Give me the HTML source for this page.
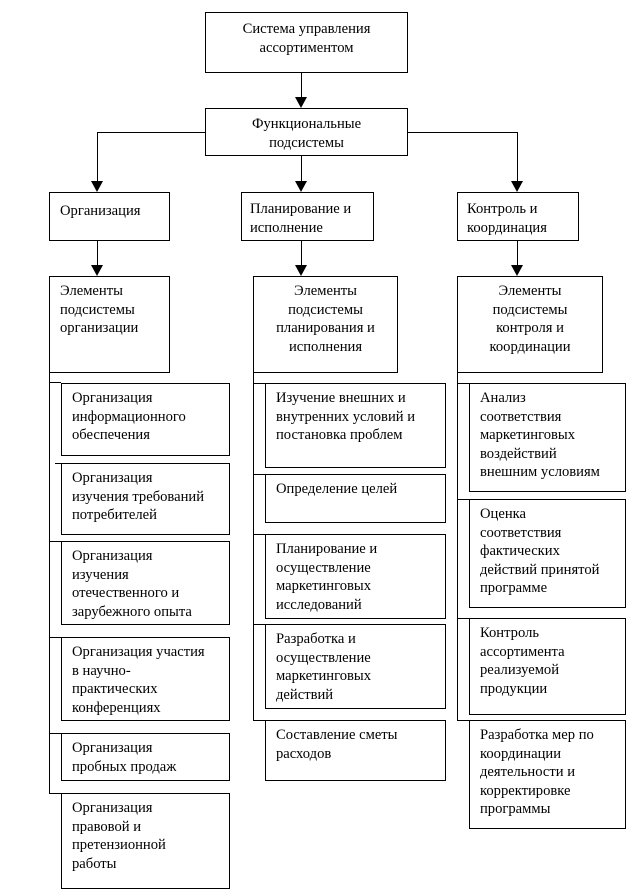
<!DOCTYPE html>
<html><head><meta charset="utf-8"><style>
body{margin:0;width:636px;height:891px;background:#fff;position:relative;overflow:hidden;font-family:"Liberation Serif","DejaVu Serif",serif;font-size:14.6px;line-height:18.6px;color:#000}
.b{position:absolute;border:1px solid #000;box-sizing:border-box;padding:5px 0 0 10px;background:#fff;white-space:nowrap}
.c{text-align:center;padding-left:0}
.l{position:absolute;background:#000}
.a{position:absolute;width:0;height:0;border-left:6px solid transparent;border-right:6px solid transparent;border-top:11px solid #000}
</style></head><body>
<div class="l" style="left:301px;top:72px;width:1px;height:28px"></div><div class="a" style="left:295px;top:97px"></div>
<div class="l" style="left:97px;top:132px;width:108px;height:1px"></div>
<div class="l" style="left:407px;top:132px;width:111px;height:1px"></div>
<div class="l" style="left:97px;top:132px;width:1px;height:50px"></div><div class="a" style="left:91px;top:181px"></div>
<div class="l" style="left:301px;top:156px;width:1px;height:26px"></div><div class="a" style="left:295px;top:181px"></div>
<div class="l" style="left:517px;top:132px;width:1px;height:50px"></div><div class="a" style="left:511px;top:181px"></div>
<div class="l" style="left:97px;top:240px;width:1px;height:26px"></div><div class="a" style="left:91px;top:265px"></div>
<div class="l" style="left:301px;top:240px;width:1px;height:26px"></div><div class="a" style="left:295px;top:265px"></div>
<div class="l" style="left:517px;top:240px;width:1px;height:26px"></div><div class="a" style="left:511px;top:265px"></div>
<div class="l" style="left:49px;top:372px;width:1px;height:421px"></div>
<div class="l" style="left:253px;top:372px;width:1px;height:348px"></div>
<div class="l" style="left:457px;top:372px;width:1px;height:348px"></div>
<div class="l" style="left:49px;top:382px;width:12px;height:1px"></div>
<div class="l" style="left:55px;top:463px;width:6px;height:1px"></div>
<div class="l" style="left:49px;top:541px;width:12px;height:1px"></div>
<div class="l" style="left:49px;top:637px;width:12px;height:1px"></div>
<div class="l" style="left:49px;top:733px;width:12px;height:1px"></div>
<div class="l" style="left:49px;top:793px;width:12px;height:1px"></div>
<div class="l" style="left:253px;top:383px;width:12px;height:1px"></div>
<div class="l" style="left:253px;top:474px;width:12px;height:1px"></div>
<div class="l" style="left:253px;top:534px;width:12px;height:1px"></div>
<div class="l" style="left:253px;top:624px;width:12px;height:1px"></div>
<div class="l" style="left:253px;top:720px;width:12px;height:1px"></div>
<div class="l" style="left:457px;top:383px;width:12px;height:1px"></div>
<div class="l" style="left:457px;top:499px;width:12px;height:1px"></div>
<div class="l" style="left:457px;top:618px;width:12px;height:1px"></div>
<div class="l" style="left:457px;top:720px;width:12px;height:1px"></div>

<div class="b c" style="left:205px;top:12px;width:203px;height:61px;padding-top:7px">Система управления<br>ассортиментом</div>
<div class="b c" style="left:205px;top:108px;width:203px;height:48px;padding-top:6px">Функциональные<br>подсистемы</div>
<div class="b" style="left:49px;top:192px;width:121px;height:49px;padding-top:9px">Организация</div>
<div class="b" style="left:241px;top:192px;width:133px;height:49px;padding-top:7px;padding-left:8px">Планирование и<br>исполнение</div>
<div class="b" style="left:457px;top:192px;width:122px;height:49px;padding-top:7px;padding-left:9px">Контроль и<br>координация</div>
<div class="b" style="left:49px;top:276px;width:121px;height:97px">Элементы<br>подсистемы<br>организации</div>
<div class="b c" style="left:253px;top:276px;width:145px;height:97px">Элементы<br>подсистемы<br>планирования и<br>исполнения</div>
<div class="b c" style="left:457px;top:276px;width:146px;height:97px">Элементы<br>подсистемы<br>контроля и<br>координации</div>

<div class="b" style="left:61px;top:383px;width:169px;height:73px">Организация<br>информационного<br>обеспечения</div>
<div class="b" style="left:61px;top:463px;width:169px;height:72px">Организация<br>изучения требований<br>потребителей</div>
<div class="b" style="left:61px;top:541px;width:169px;height:84px">Организация<br>изучения<br>отечественного и<br>зарубежного опыта</div>
<div class="b" style="left:61px;top:637px;width:169px;height:84px">Организация участия<br>в научно-<br>практических<br>конференциях</div>
<div class="b" style="left:61px;top:733px;width:169px;height:48px">Организация<br>пробных продаж</div>
<div class="b" style="left:61px;top:793px;width:169px;height:96px">Организация<br>правовой и<br>претензионной<br>работы</div>

<div class="b" style="left:265px;top:383px;width:181px;height:85px">Изучение внешних и<br>внутренних условий и<br>постановка проблем</div>
<div class="b" style="left:265px;top:474px;width:181px;height:49px">Определение целей</div>
<div class="b" style="left:265px;top:534px;width:181px;height:85px">Планирование и<br>осуществление<br>маркетинговых<br>исследований</div>
<div class="b" style="left:265px;top:624px;width:181px;height:85px">Разработка и<br>осуществление<br>маркетинговых<br>действий</div>
<div class="b" style="left:265px;top:720px;width:181px;height:61px">Составление сметы<br>расходов</div>

<div class="b" style="left:469px;top:383px;width:157px;height:109px">Анализ<br>соответствия<br>маркетинговых<br>воздействий<br>внешним условиям</div>
<div class="b" style="left:469px;top:499px;width:157px;height:109px">Оценка<br>соответствия<br>фактических<br>действий принятой<br>программе</div>
<div class="b" style="left:469px;top:618px;width:157px;height:97px">Контроль<br>ассортимента<br>реализуемой<br>продукции</div>
<div class="b" style="left:469px;top:720px;width:157px;height:109px">Разработка мер по<br>координации<br>деятельности и<br>корректировке<br>программы</div>
</body></html>
